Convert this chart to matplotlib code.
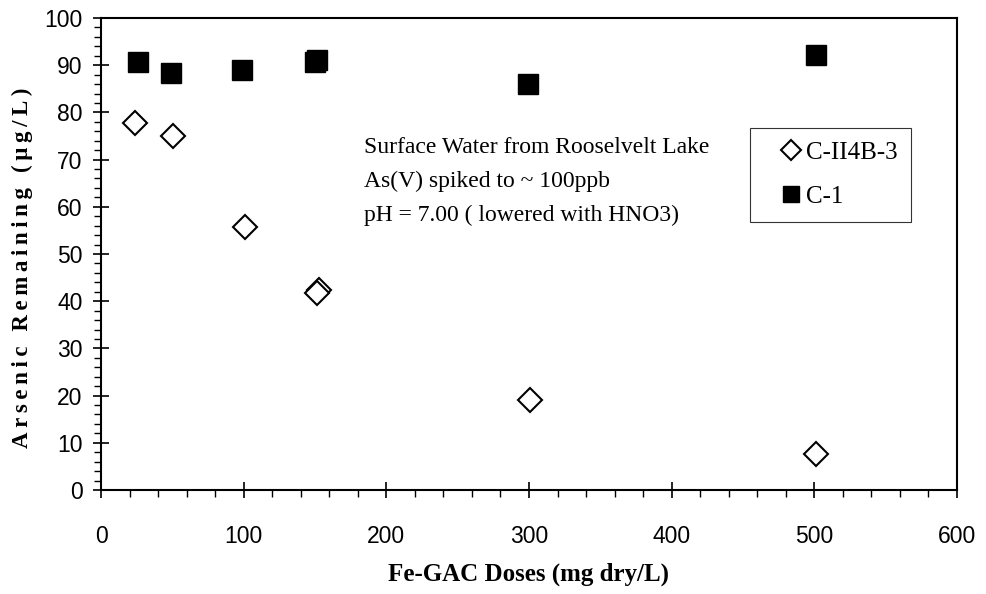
import matplotlib.pyplot as plt
from matplotlib.ticker import MultipleLocator
from matplotlib.legend_handler import HandlerLine2D

# data
dose_ii4b = [24, 50, 101, 153, 151, 301, 501]
as_ii4b = [77.8, 75.0, 55.7, 42.4, 41.7, 19.0, 7.6]

dose_c1 = [26, 49, 99, 151, 150, 299, 501]
as_c1 = [90.7, 88.4, 88.9, 91.0, 90.6, 86.0, 92.2]

note_lines = ["Surface Water from Rooselvelt Lake",
              "As(V) spiked to ~ 100ppb",
              "pH = 7.00 ( lowered with HNO3)"]

serif = ['Liberation Serif', 'DejaVu Serif']
sans = ['Liberation Sans', 'DejaVu Sans']

fig = plt.figure(figsize=(9.86, 5.94), dpi=100)
ax = fig.add_axes([0.1027, 0.1751, 0.8676, 0.7946])

ax.plot(dose_ii4b, as_ii4b, linestyle='none', marker='D', markersize=12.5,
        markerfacecolor='white', markeredgecolor='black', markeredgewidth=1.5,
        label='C-II4B-3', zorder=3)
ax.plot(dose_c1, as_c1, linestyle='none', marker='s', markersize=14,
        markerfacecolor='black', markeredgecolor='black', label='C-1', zorder=3)

ax.set_xlim(0, 600)
ax.set_ylim(0, 100)
ax.xaxis.set_major_locator(MultipleLocator(100))
ax.xaxis.set_minor_locator(MultipleLocator(20))
ax.yaxis.set_major_locator(MultipleLocator(10))
ax.yaxis.set_minor_locator(MultipleLocator(2))

for s in ax.spines.values():
    s.set_linewidth(1.5)
ax.tick_params(which='major', direction='inout', length=11, width=1.2,
               labelsize=16.5)
ax.tick_params(axis='x', which='major', pad=20)
ax.tick_params(axis='y', which='major', pad=8)
ax.tick_params(which='minor', direction='out', length=5, width=1.0)
for lab in ax.get_xticklabels() + ax.get_yticklabels():
    lab.set_family(sans)

ax.set_xlabel('Fe-GAC Doses (mg dry/L)', family=serif, fontsize=18,
              fontweight='bold', labelpad=10)
ylab = '\u2009'.join('Arsenic Remaining (μg/L)')
ax.set_ylabel(ylab, family=serif, fontsize=16.5, fontweight='bold')
ax.yaxis.set_label_coords(-0.08, 0.47)

for i, line in enumerate(note_lines):
    ax.text(0.307, 0.725 - i * 0.072, line, transform=ax.transAxes,
            family=serif, fontsize=17, va='center', ha='left')

hmap = {ln: HandlerLine2D(xpad=0.68) for ln in ax.get_lines()}
leg = ax.legend(loc='upper left', bbox_to_anchor=(0.758, 0.767),
                borderaxespad=0, prop={'family': serif, 'size': 18},
                frameon=True, fancybox=False, edgecolor='black',
                markerscale=0.82, handlelength=1.5, handletextpad=0.19,
                labelspacing=0.85, borderpad=0.55, handler_map=hmap)
leg.get_frame().set_linewidth(0.8)

fig.savefig('out.png', dpi=100)
